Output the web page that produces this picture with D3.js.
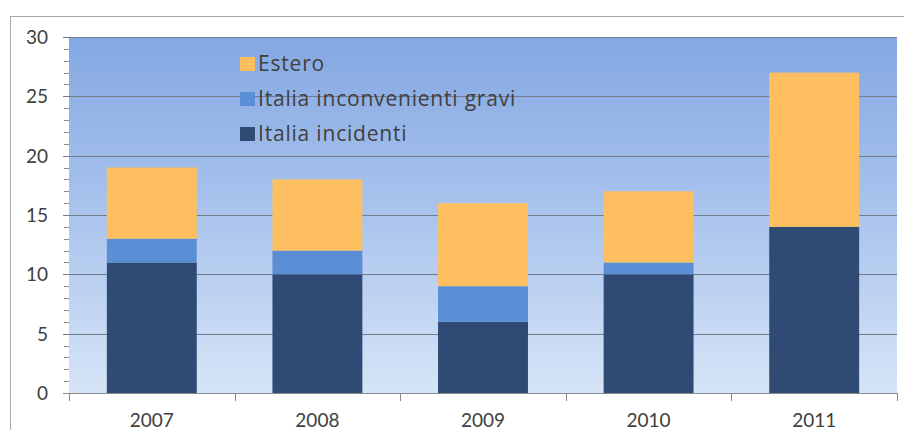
<!DOCTYPE html>
<html>
<head>
<meta charset="utf-8">
<script src="https://cdn.jsdelivr.net/npm/d3@7"></script>
<style>
  html, body { margin: 0; padding: 0; background: #fff; }
  svg { display: block; }
  text { font-family: Lato, "Open Sans", sans-serif; fill: #404040; }
  .legend text { font-family: "Open Sans", Lato, sans-serif; }
</style>
</head>
<body>
<svg id="chart" width="904" height="430"></svg>
<script>
// Events per year, stacked bottom to top
const years = ["2007", "2008", "2009", "2010", "2011"];
const italiaIncidenti = [11, 10, 6, 10, 14];
const italiaGravi = [2, 2, 3, 1, 0];
const estero = [6, 6, 7, 6, 13];
const yTicks = [0, 5, 10, 15, 20, 25, 30];

const seriesKeys = ["Italia incidenti", "Italia inconvenienti gravi", "Estero"];
const seriesColors = {
  "Italia incidenti": "#2f4b74",
  "Italia inconvenienti gravi": "#5b8fd5",
  "Estero": "#fdbf5f"
};

const rows = years.map((yr, i) => ({
  year: yr,
  "Italia incidenti": italiaIncidenti[i],
  "Italia inconvenienti gravi": italiaGravi[i],
  "Estero": estero[i]
}));

const svg = d3.select("#chart");
const plot = { left: 69, right: 897, top: 37, bottom: 393 };

const x = d3.scaleBand().domain(years)
  .range([plot.left, plot.right])
  .paddingInner(0.457).paddingOuter(0.2285);
const y = d3.scaleLinear().domain([0, 30]).range([plot.bottom, plot.top]);

// outer frame
svg.append("rect")
  .attr("x", 10.5).attr("y", 16.5).attr("width", 940).attr("height", 440)
  .attr("fill", "none").attr("stroke", "#a8a8a8").attr("stroke-width", 1);

// plot background gradient
const defs = svg.append("defs");
const grad = defs.append("linearGradient").attr("id", "bg")
  .attr("x1", 0).attr("y1", 0).attr("x2", 0).attr("y2", 1);
grad.append("stop").attr("offset", "0%").attr("stop-color", "#84a8e3");
grad.append("stop").attr("offset", "45%").attr("stop-color", "#a6c1ec");
grad.append("stop").attr("offset", "100%").attr("stop-color", "#d6e4f7");

svg.append("rect")
  .attr("x", plot.left).attr("y", plot.top)
  .attr("width", plot.right - plot.left).attr("height", plot.bottom - plot.top)
  .attr("fill", "url(#bg)");

// minor ticks on the value axis
const minor = d3.range(0, 31);
svg.append("g").selectAll("line").data(minor).join("line")
  .attr("x1", plot.left - 5).attr("x2", plot.left)
  .attr("y1", d => Math.round(y(d)) + 0.5).attr("y2", d => Math.round(y(d)) + 0.5)
  .attr("stroke", "#8a8a8a").attr("stroke-width", 1);

// gridlines
svg.append("g").selectAll("line").data(yTicks.filter(d => d > 0)).join("line")
  .attr("x1", plot.left - 6).attr("x2", plot.right)
  .attr("y1", d => Math.round(y(d)) + 0.5).attr("y2", d => Math.round(y(d)) + 0.5)
  .attr("stroke", "#737b88").attr("stroke-width", 1.2);

// y tick labels
svg.append("g").selectAll("text").data(yTicks).join("text")
  .attr("x", 48).attr("y", d => y(d) + 7)
  .attr("text-anchor", "end")
  .attr("font-size", 19)
  .text(d => d);

// stacked bars
const stacked = d3.stack().keys(seriesKeys)(rows);
svg.append("g").selectAll("g").data(stacked).join("g")
  .attr("fill", s => seriesColors[s.key])
  .selectAll("rect").data(s => s).join("rect")
  .attr("x", d => x(d.data.year))
  .attr("width", x.bandwidth())
  .attr("y", d => y(d[1]))
  .attr("height", d => y(d[0]) - y(d[1]));

// category axis
const xAxis = svg.append("g");
xAxis.append("line")
  .attr("x1", plot.left - 6).attr("x2", plot.right)
  .attr("y1", plot.bottom + 0.5).attr("y2", plot.bottom + 0.5)
  .attr("stroke", "#8a8a8a");
const bounds = years.map(yr => x(yr) - x.step() * x.paddingInner() / 2).concat([plot.right]);
xAxis.selectAll("line.tick").data(bounds).join("line")
  .attr("class", "tick")
  .attr("x1", d => Math.round(d) + 0.5).attr("x2", d => Math.round(d) + 0.5)
  .attr("y1", plot.bottom).attr("y2", plot.bottom + 8)
  .attr("stroke", "#8a8a8a");
xAxis.selectAll("text").data(years).join("text")
  .attr("x", d => x(d) + x.bandwidth() / 2)
  .attr("y", 427)
  .attr("text-anchor", "middle")
  .attr("font-size", 19)
  .text(d => d);

// legend
const legendItems = ["Estero", "Italia inconvenienti gravi", "Italia incidenti"];
const legend = svg.append("g").attr("class", "legend")
  .selectAll("g").data(legendItems).join("g")
  .attr("transform", (d, i) => `translate(240, ${64 + i * 35})`);
legend.append("rect")
  .attr("x", 0).attr("y", -7).attr("width", 15).attr("height", 14)
  .attr("fill", d => seriesColors[d]);
legend.append("text")
  .attr("x", 18).attr("y", 7)
  .attr("font-size", 21)
  .attr("letter-spacing", 0.8)
  .text(d => d);
</script>
</body>
</html>
